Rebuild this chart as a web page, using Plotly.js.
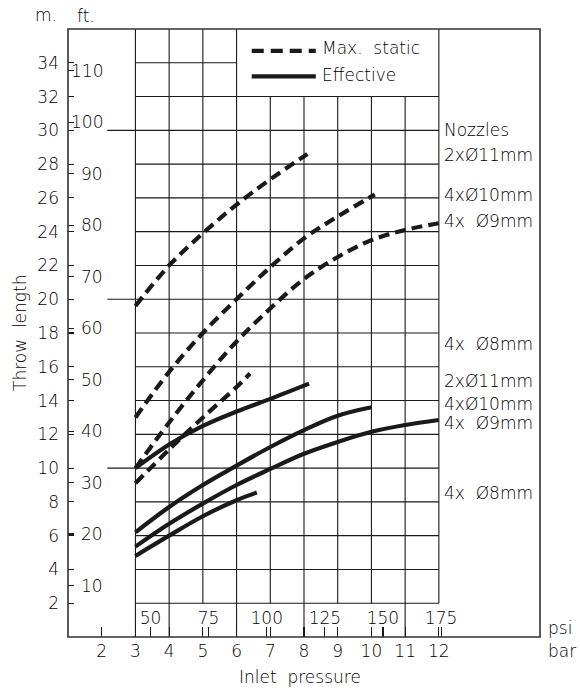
<!DOCTYPE html>
<html>
<head>
<meta charset="utf-8">
<script src="https://cdn.plot.ly/plotly-3.0.1.min.js"></script>
<style>
  html, body { margin: 0; padding: 0; background: #fff; }
  #chart { width: 580px; height: 691px; }
</style>
</head>
<body>
<div id="chart"></div>
<script>
// ---------- DATA (inlet pressure in bar, throw length in m) ----------
const pMax2x11 = [3, 4, 5, 6, 7, 8.1];
const tMax2x11 = [19.6, 22.0, 23.9, 25.6, 27.1, 28.6];
const pMax4x10 = [3, 4, 5, 6, 7, 8, 9, 10.1];
const tMax4x10 = [13.0, 15.7, 18.0, 20.0, 21.9, 23.6, 24.9, 26.2];
const pMax4x9 = [3, 4, 5, 6, 7, 8, 9, 10, 11, 12];
const tMax4x9 = [10.0, 12.7, 15.2, 17.5, 19.45, 21.2, 22.5, 23.5, 24.1, 24.5];
const pMax4x8 = [3, 4, 5, 6, 6.4];
const tMax4x8 = [9.1, 11.1, 13.0, 14.8, 15.6];

const pEff2x11 = [3, 4, 5, 6, 7, 8.15];
const tEff2x11 = [10.0, 11.4, 12.5, 13.35, 14.1, 15.0];
const pEff4x10 = [3, 4, 5, 6, 7, 8, 9, 10];
const tEff4x10 = [6.2, 7.7, 9.0, 10.15, 11.25, 12.25, 13.1, 13.6];
const pEff4x9 = [3, 4, 5, 6, 7, 8, 9, 10, 11, 12];
const tEff4x9 = [5.35, 6.7, 7.9, 9.0, 9.95, 10.85, 11.55, 12.15, 12.55, 12.85];
const pEff4x8 = [3, 4, 5, 6, 6.6];
const tEff4x8 = [4.8, 6.0, 7.15, 8.1, 8.55];

// ---------- TICKS / LABELS ----------
const mTicks = [2, 4, 6, 8, 10, 12, 14, 16, 18, 20, 22, 24, 26, 28, 30, 32, 34];
const ftTicks = [10, 20, 30, 40, 50, 60, 70, 80, 90, 100, 110];
const barTicks = [2, 3, 4, 5, 6, 7, 8, 9, 10, 11, 12];
const psiTicks = [50, 75, 100, 125, 150, 175];
const nozzleLabels = ['Nozzles', '2xØ11mm', '4xØ10mm', '4x\u00A0\u00A0Ø9mm', '4x\u00A0\u00A0Ø8mm',
                      '2xØ11mm', '4xØ10mm', '4x\u00A0\u00A0Ø9mm', '4x\u00A0\u00A0Ø8mm'];
const legendLabels = ['Max.\u00A0\u00A0static', 'Effective'];

// ---------- constants / styling ----------
const PSI_PER_BAR = 14.5038;
const M_PER_FT = 0.3048;
const INK = '#1a1a1a';
const TXT = '#000';
const FONT = '"DejaVu Sans ExtraLight", "DejaVu Sans Light", "Liberation Sans", Arial, sans-serif';
const FS = 17;

// label vertical positions (m) for the nozzle legend on the right
const nozzleLabelY = [30, 28.55, 26.2, 24.65, 17.35, 15.15, 13.8, 12.65, 8.55];

function curve(x, y, dashed) {
  return {
    x: x, y: y, type: 'scatter', mode: 'lines', hoverinfo: 'skip', showlegend: false,
    line: { color: INK, width: 4.2, shape: 'spline', smoothing: 1, dash: dashed ? '11px,6px' : 'solid' }
  };
}

const traces = [
  curve(pMax2x11, tMax2x11, true),
  curve(pMax4x10, tMax4x10, true),
  curve(pMax4x9, tMax4x9, true),
  curve(pMax4x8, tMax4x8, true),
  curve(pEff2x11, tEff2x11, false),
  curve(pEff4x10, tEff4x10, false),
  curve(pEff4x9, tEff4x9, false),
  curve(pEff4x8, tEff4x8, false),
  // invisible trace to activate the secondary axes
  { x: [psiTicks[0]], y: [ftTicks[0]], xaxis: 'x2', yaxis: 'y2', type: 'scatter', mode: 'markers',
    marker: { opacity: 0 }, hoverinfo: 'skip', showlegend: false }
];

// ---------- grid shapes ----------
const shapes = [];
const gridLine = { color: INK, width: 1.1 };
const fullBars = [3, 4, 6, 8, 11];
barTicks.filter(b => b >= 3).forEach(b => {
  const y0 = fullBars.includes(b) ? 0 : 2;
  const y1 = (b <= 6 || b === 12) ? 36 : 32;
  shapes.push({ type: 'line', xref: 'x', yref: 'y', x0: b, x1: b, y0: y0, y1: y1, line: gridLine });
});
mTicks.forEach(m => {
  const x0 = (m % 10 === 0) ? 2.165 : 3;
  const x1 = (m === 34) ? 6 : 12;
  shapes.push({ type: 'line', xref: 'x', yref: 'y', x0: x0, x1: x1, y0: m, y1: m, line: gridLine });
});
// outer frame
shapes.push({ type: 'rect', xref: 'paper', yref: 'paper', x0: 0, x1: 1, y0: 0, y1: 1,
  line: { color: '#333', width: 1.6 } });
// legend samples
shapes.push({ type: 'line', xref: 'x', yref: 'y', x0: 6.45, x1: 8.35, y0: 34.7, y1: 34.7,
  line: { color: INK, width: 4.2, dash: '12px,7px' } });
shapes.push({ type: 'line', xref: 'x', yref: 'y', x0: 6.45, x1: 8.35, y0: 33.2, y1: 33.2,
  line: { color: INK, width: 4.2 } });

// ---------- annotations ----------
const ann = [];
const tf = { family: FONT, size: FS, color: TXT };
ftTicks.forEach(f => {
  ann.push({ text: String(f), xref: 'paper', yref: 'y2', x: 0.0775, y: f, xanchor: 'right', yanchor: 'middle',
    showarrow: false, font: tf });
});
nozzleLabels.forEach((t, i) => {
  ann.push({ text: t, xref: 'x', yref: 'y', x: 12, y: nozzleLabelY[i], xanchor: 'left', yanchor: 'middle',
    xshift: 3, showarrow: false, font: tf });
});
ann.push({ text: legendLabels[0], xref: 'x', yref: 'y', x: 8.48, y: 34.85, xanchor: 'left', yanchor: 'middle', showarrow: false, font: tf });
ann.push({ text: legendLabels[1], xref: 'x', yref: 'y', x: 8.48, y: 33.3, xanchor: 'left', yanchor: 'middle', showarrow: false, font: tf });
ann.push({ text: 'm.', xref: 'paper', yref: 'paper', x: -0.047, y: 1.0, xanchor: 'center', yanchor: 'bottom', yshift: 2, showarrow: false, font: tf });
ann.push({ text: 'ft.', xref: 'paper', yref: 'paper', x: 0.038, y: 1.0, xanchor: 'center', yanchor: 'bottom', yshift: 1, showarrow: false, font: tf });
ann.push({ text: 'psi', xref: 'paper', yref: 'paper', x: 1.0, y: 0, xanchor: 'left', yanchor: 'middle', xshift: 6, yshift: 9, showarrow: false, font: tf });
ann.push({ text: 'bar', xref: 'paper', yref: 'paper', x: 1.0, y: 0, xanchor: 'left', yanchor: 'middle', xshift: 6, yshift: -14, showarrow: false, font: tf });
ann.push({ text: 'Inlet\u00A0\u00A0pressure', xref: 'paper', yref: 'paper', x: 0.492, y: 0, xanchor: 'center', yanchor: 'middle', yshift: -40, showarrow: false, font: tf });
ann.push({ text: 'Throw\u00A0\u00A0length', xref: 'paper', yref: 'paper', x: 0, y: 0.5, xanchor: 'center', yanchor: 'middle', xshift: -48, textangle: -90, showarrow: false, font: tf });

const axisCommon = { showgrid: false, zeroline: false, showline: false, tickcolor: INK, tickwidth: 1.1,
  tickfont: { family: FONT, size: FS, color: TXT }, fixedrange: true };

const layout = {
  width: 580, height: 691,
  margin: { l: 68, r: 40, t: 29, b: 54 },
  paper_bgcolor: '#fff', plot_bgcolor: '#fff',
  showlegend: false,
  xaxis: Object.assign({}, axisCommon, { range: [1, 15], tickmode: 'array', tickvals: barTicks,
    ticks: 'inside', ticklen: 10, ticklabelstandoff: 2 }),
  xaxis2: Object.assign({}, axisCommon, { overlaying: 'x', anchor: 'y', side: 'bottom',
    range: [1 * PSI_PER_BAR, 15 * PSI_PER_BAR], tickmode: 'array', tickvals: psiTicks,
    ticks: 'inside', ticklen: 10, ticklabelposition: 'inside', ticklabelstandoff: 0 }),
  yaxis: Object.assign({}, axisCommon, { range: [0, 36], tickmode: 'array', tickvals: mTicks,
    ticks: 'inside', ticklen: 6, ticklabelstandoff: 8 }),
  yaxis2: Object.assign({}, axisCommon, { overlaying: 'y', anchor: 'x', side: 'left',
    range: [0, 36 / M_PER_FT], tickmode: 'array', tickvals: ftTicks,
    ticks: 'inside', ticklen: 6, showticklabels: false }),
  shapes: shapes,
  annotations: ann
};

Plotly.newPlot('chart', traces, layout, { staticPlot: true, displayModeBar: false });
</script>
</body>
</html>
